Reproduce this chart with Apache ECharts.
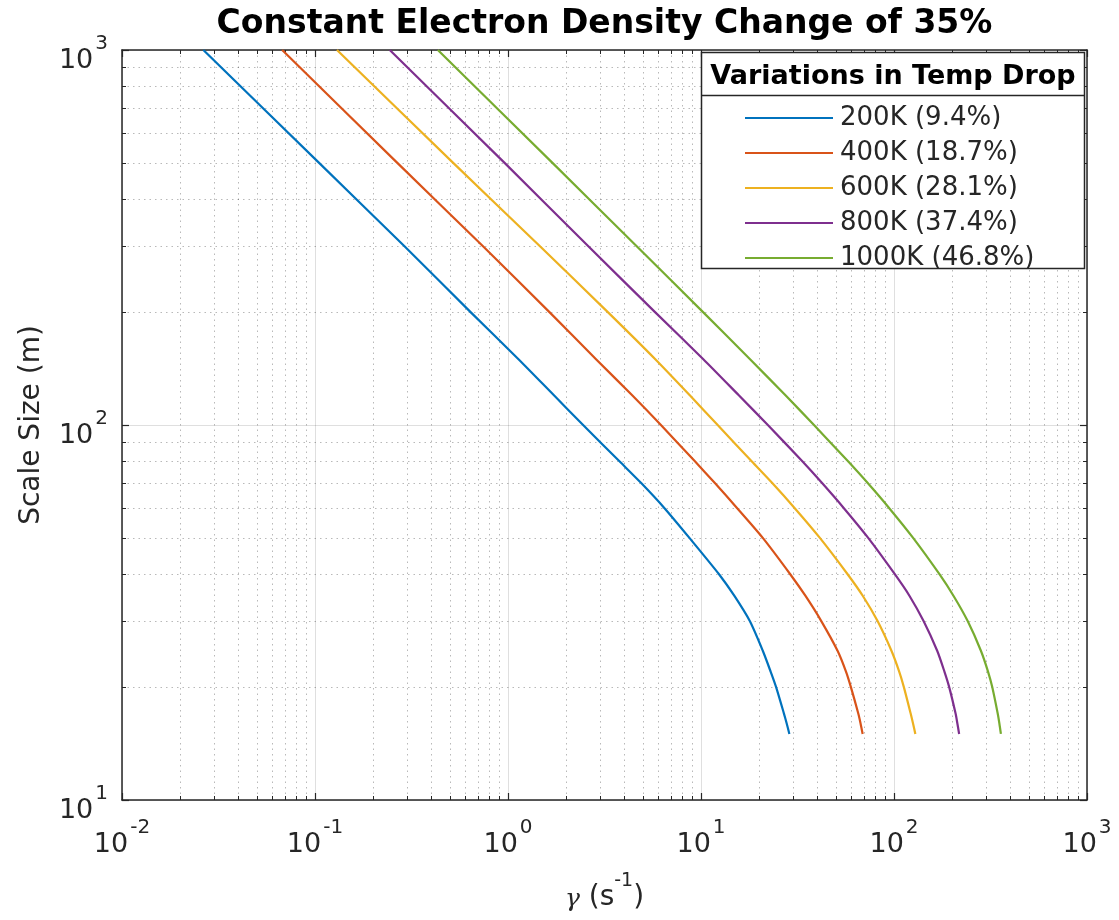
<!DOCTYPE html>
<html>
<head>
<meta charset="utf-8">
<title>Constant Electron Density Change of 35%</title>
<script src="https://cdn.jsdelivr.net/npm/echarts@6/dist/echarts.min.js"></script>
<style>
  html, body { margin: 0; padding: 0; background: #ffffff; }
  #chart { width: 1119px; height: 920px; }
</style>
</head>
<body>
<div id="chart"></div>
<script>
// Scale sizes (m) at which every growth-rate curve is sampled
const scaleSize = [1000, 500, 300, 200, 150, 120, 100, 80, 70, 60, 50, 40, 35, 30, 25, 22, 20, 17, 16, 15];

// Growth rate gamma (1/s) for each temperature drop, one value per scale size
const gamma200K  = [0.0264, 0.105, 0.29, 0.64, 1.13, 1.73, 2.45, 3.78, 4.9, 6.47, 8.71, 12.4, 14.9, 17.9, 20.9, 22.95, 24.5, 26.9, 27.8, 28.7];
const gamma400K  = [0.0676, 0.267, 0.74, 1.64, 2.85, 4.4, 6.2, 9.3, 11.8, 15.4, 20.9, 29.0, 34.8, 42.0, 51.0, 56.4, 59.8, 65.3, 67.1, 68.8];
const gamma600K  = [0.130, 0.52, 1.46, 3.29, 5.78, 8.75, 12.2, 18.3, 23.4, 30.6, 41.3, 57.5, 69.0, 82.2, 97.0, 106.4, 112.5, 122, 125.5, 129];
const gamma800K  = [0.244, 0.96, 2.6, 5.78, 10.25, 15.7, 22.2, 33.5, 42.4, 55.0, 73.5, 101, 120.4, 142.3, 167.4, 182.5, 193.2, 208.5, 213, 217.5];
const gamma1000K = [0.433, 1.70, 4.63, 10.25, 17.9, 27.4, 38.5, 57.8, 73.1, 94.5, 125.6, 172, 203.6, 240.9, 282, 307, 322.9, 344.6, 351.6, 358];

const seriesNames = ['200K (9.4%)', '400K (18.7%)', '600K (28.1%)', '800K (37.4%)', '1000K (46.8%)'];
const seriesGamma = [gamma200K, gamma400K, gamma600K, gamma800K, gamma1000K];
const seriesColors = ['#0072BD', '#D95319', '#EDB120', '#7E2F8E', '#77AC30'];

// Decade exponents used for the tick labels
const xTickExponents = [-2, -1, 0, 1, 2, 3];
const yTickExponents = [1, 2, 3];

const FONT = 'DejaVu Sans';
const INK = '#262626';

function powerLabel(v) {
  const e = Math.round(Math.log10(v));
  return '{b|10}{e|' + e + '}';
}

const powerRich = {
  b: { fontFamily: FONT, fontSize: 27, color: INK, lineHeight: 40, verticalAlign: 'bottom' },
  e: { fontFamily: FONT, fontSize: 20, color: INK, lineHeight: 20, verticalAlign: 'top', padding: [0, 0, 0, 2] }
};

function logAxis(exponents, extra) {
  return Object.assign({
    type: 'log',
    logBase: 10,
    min: Math.pow(10, exponents[0]),
    max: Math.pow(10, exponents[exponents.length - 1]),
    axisLine: { show: true, onZero: false, lineStyle: { color: INK, width: 1.5 } },
    axisTick: { show: true, inside: true, length: 7, lineStyle: { color: INK, width: 1.2 } },
    minorTick: { show: true, splitNumber: 9, length: 4, lineStyle: { color: INK, width: 1 } },
    splitLine: { show: false },
    minorSplitLine: { show: false },
    axisLabel: { show: false }
  }, extra);
}

const chart = echarts.init(document.getElementById('chart'), null, { renderer: 'canvas' });

const option = {
  backgroundColor: '#ffffff',
  animation: false,
  grid: { left: 122, right: 32, top: 50, bottom: 120, containLabel: false, outerBoundsMode: 'none' },
  legend: {
    data: seriesNames,
    orient: 'vertical',
    left: 745,
    top: 103,
    icon: 'rect',
    itemWidth: 88,
    itemHeight: 2,
    itemGap: 5,
    padding: 0,
    selectedMode: false,
    z: 8,
    textStyle: { fontFamily: FONT, fontSize: 26, color: INK, lineHeight: 30, padding: [0, 0, 0, 2] }
  },
  xAxis: [
    logAxis(xTickExponents, {
      position: 'bottom',
      splitLine: { show: true, lineStyle: { color: 'rgba(38,38,38,0.15)', width: 1 } },
      minorSplitLine: { show: true, lineStyle: { color: 'rgba(38,38,38,0.32)', width: 1, type: [1.5, 4] } },
      axisLabel: { show: true, margin: 18, formatter: powerLabel, rich: powerRich },
      name: '{g|γ}{p| (s}{e|-1}{p|)}',
      nameLocation: 'middle',
      nameGap: 72,
      nameTextStyle: {
        rich: {
          g: { fontFamily: 'DejaVu Serif', fontStyle: 'italic', fontSize: 25, color: INK, lineHeight: 40, verticalAlign: 'bottom' },
          p: { fontFamily: FONT, fontSize: 28, color: INK, lineHeight: 40, verticalAlign: 'bottom' },
          e: { fontFamily: FONT, fontSize: 19, color: INK, lineHeight: 19, verticalAlign: 'top' }
        }
      }
    }),
    logAxis(xTickExponents, { position: 'top' })
  ],
  yAxis: [
    logAxis(yTickExponents, {
      position: 'left',
      splitLine: { show: true, lineStyle: { color: 'rgba(38,38,38,0.15)', width: 1 } },
      minorSplitLine: { show: true, lineStyle: { color: 'rgba(38,38,38,0.32)', width: 1, type: [1.5, 4] } },
      axisLabel: { show: true, margin: 14, padding: [8, 0, 0, 0], formatter: powerLabel, rich: powerRich },
      name: 'Scale Size (m)',
      nameLocation: 'middle',
      nameRotate: 90,
      nameGap: 76,
      nameTextStyle: { fontFamily: FONT, fontSize: 28, color: INK }
    }),
    logAxis(yTickExponents, { position: 'right' })
  ],
  series: seriesNames.map(function (name, k) {
    return {
      name: name,
      type: 'line',
      xAxisIndex: 0,
      yAxisIndex: 0,
      symbol: 'none',
      smooth: 0.25,
      z: 3,
      lineStyle: { color: seriesColors[k], width: 2.2, join: 'round' },
      itemStyle: { color: seriesColors[k] },
      data: scaleSize.map(function (s, i) { return [seriesGamma[k][i], s]; })
    };
  }),
  graphic: [
    {
      type: 'rect', z: 6,
      shape: { x: 701.5, y: 52.5, width: 383, height: 216 },
      style: { fill: '#ffffff', stroke: INK, lineWidth: 1.5 }
    },
    {
      type: 'line', z: 7,
      shape: { x1: 701.5, y1: 95.5, x2: 1084.5, y2: 95.5 },
      style: { stroke: INK, lineWidth: 1.5 }
    },
    {
      type: 'text', z: 7, x: 893, y: 77,
      style: {
        text: 'Variations in Temp Drop', font: 'bold 27px "DejaVu Sans"', fill: '#000000',
        align: 'center', verticalAlign: 'middle', textAlign: 'center', textVerticalAlign: 'middle'
      }
    },
    {
      type: 'text', z: 7, x: 604.5, y: 24,
      style: {
        text: 'Constant Electron Density Change of 35%', font: 'bold 33px "DejaVu Sans"', fill: '#000000',
        align: 'center', verticalAlign: 'middle', textAlign: 'center', textVerticalAlign: 'middle'
      }
    }
  ]
};

chart.setOption(option);
</script>
</body>
</html>
